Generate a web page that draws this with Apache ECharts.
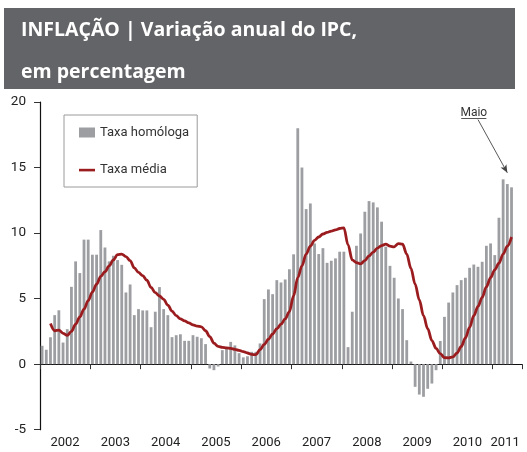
<!DOCTYPE html>
<html>
<head>
<meta charset="utf-8">
<script src="https://cdn.jsdelivr.net/npm/echarts@6/dist/echarts.min.js"></script>
<style>
  html, body { margin: 0; padding: 0; background: #fff; }
  #chart { width: 527px; height: 452px; }
</style>
</head>
<body>
<div id="chart"></div>
<script>
const years = [2002, 2003, 2004, 2005, 2006, 2007, 2008, 2009, 2010, 2011];
const seriesNames = ['Taxa homóloga', 'Taxa média'];
const yTicks = { min: -5, max: 20, step: 5 };

// Taxa homóloga, monthly (Jan 2002 - May 2011)
const taxaHomologa = [
  1.40, 1.10, 2.05, 3.74, 4.11, 1.65, 2.67, 5.90, 7.84, 6.95, 9.50, 9.50,
  8.35, 8.35, 10.23, 8.90, 7.84, 8.27, 7.94, 7.58, 5.47, 6.08, 3.74, 4.20,
  4.10, 4.10, 2.82, 4.00, 5.88, 4.20, 3.74, 2.06, 2.21, 2.28, 1.78, 1.78,
  2.21, 2.09, 1.98, 1.53, -0.33, -0.46, -0.18, 1.07, 1.16, 1.70, 1.43, 0.84,
  0.52, 0.60, 0.94, 0.94, 1.58, 4.96, 5.70, 5.34, 6.41, 6.23, 6.46, 7.24,
  8.38, 18.00, 15.00, 11.83, 12.26, 9.21, 8.40, 8.85, 7.73, 7.89, 8.07, 8.58,
  8.58, 1.30, 4.00, 9.03, 9.97, 11.63, 12.44, 12.34, 11.96, 10.87, 8.96, 7.50,
  6.59, 5.01, 4.20, 1.83, 0.20, -1.73, -2.32, -2.49, -1.88, -1.48, -0.46, 1.77,
  3.61, 4.70, 5.47, 6.03, 6.41, 6.59, 7.35, 7.60, 7.43, 7.81, 9.03, 9.21,
  8.32, 11.17, 14.10, 13.74, 13.49, null, null
];

// Taxa média (12-month average)
const taxaMedia = [
  null, null, 3.10, 2.55, 2.60, 2.35, 2.20, 2.50, 3.05, 3.60, 4.20, 4.85,
  5.50, 6.10, 6.70, 7.05, 7.50, 7.95, 8.35, 8.40, 8.20, 7.90, 7.35, 7.00,
  6.75, 6.40, 5.85, 5.45, 5.20, 4.95, 4.50, 4.05, 3.70, 3.45, 3.30, 3.15,
  3.00, 2.90, 2.85, 2.55, 2.10, 1.60, 1.35, 1.28, 1.24, 1.20, 1.13, 1.05,
  0.95, 0.85, 0.75, 0.72, 1.10, 1.50, 1.90, 2.30, 2.70, 3.05, 3.45, 4.00,
  5.20, 6.60, 7.50, 8.40, 9.00, 9.45, 9.70, 9.93, 10.05, 10.15, 10.25, 10.35,
  10.40, 9.10, 7.95, 7.75, 7.65, 7.90, 8.25, 8.55, 8.85, 9.05, 9.15, 9.00,
  8.95, 9.20, 9.15, 8.40, 7.30, 6.10, 4.90, 3.70, 2.70, 1.80, 1.20, 0.80,
  0.50, 0.48, 0.55, 0.85, 1.35, 2.00, 2.80, 3.70, 4.40, 5.10, 5.90, 6.60,
  7.20, 7.70, 8.40, 9.00, 9.70, null, null
];

// "Maio" annotation, in data coordinates
const maioUnderline = { from: '2010-05', to: '2010-11', value: 18.73 };
const maioArrow = { from: '2010-09', fromValue: 18.66, to: '2011-04', toValue: 14.6 };

// month categories, last year runs to July
const categories = [];
years.forEach(function (y) {
  const n = y === 2011 ? 7 : 12;
  for (let m = 1; m <= n; m++) categories.push(y + '-' + String(m).padStart(2, '0'));
});
const labelAt = years.map(function (y) { return y === 2011 ? '2011-03' : y + '-06'; });

const font = 'Roboto, "Liberation Sans", sans-serif';
const titleFont = '"Open Sans", sans-serif';

const chart = echarts.init(document.getElementById('chart'));
const option = {
  animation: false,
  backgroundColor: '#fff',
  graphic: [
    { type: 'rect', left: 4, top: 8, shape: { width: 511, height: 81 }, style: { fill: '#636467' } },
    { type: 'text', x: 21, y: 30.5, style: { text: 'INFLAÇÃO | Variação anual do IPC,', fill: '#fff',
      fontSize: 19.5, fontWeight: 'bold', fontFamily: titleFont, verticalAlign: 'middle' } },
    { type: 'text', x: 21, y: 72, style: { text: 'em percentagem', fill: '#fff',
      fontSize: 19.5, fontWeight: 'bold', fontFamily: titleFont, verticalAlign: 'middle' } }
  ],
  legend: {
    orient: 'vertical',
    left: 64,
    top: 115,
    padding: [11, 8, 10.5, 15],
    itemGap: 24.5,
    itemWidth: 16,
    itemHeight: 10,
    borderColor: '#9a9a9a',
    borderWidth: 1,
    textStyle: { fontFamily: font, fontSize: 13, color: '#333' },
    data: [
      { name: seriesNames[0], icon: 'rect' },
      // thin bar inside a 16x10 box: the lone move points keep the box size
      { name: seriesNames[1], icon: 'path://M0,0L0,0M0,3.8L16,3.8L16,6.4L0,6.4ZM16,10L16,10' }
    ]
  },
  grid: { left: 40, right: 5, top: 102, bottom: 22.3, containLabel: false, outerBoundsMode: 'none' },
  xAxis: [
    {
      type: 'category',
      data: categories,
      position: 'bottom',
      axisLine: { onZero: true, lineStyle: { color: '#111', width: 1.2 } },
      axisTick: {
        show: true, length: 5, lineStyle: { color: '#333' },
        interval: function (i, v) { return v.slice(5) === '01'; }
      },
      axisLabel: { show: false },
      splitLine: { show: false }
    },
    {
      type: 'category',
      data: categories,
      position: 'bottom',
      axisLine: { show: false, onZero: false },
      axisTick: { show: false },
      splitLine: { show: false },
      axisLabel: {
        show: true, margin: 7, fontFamily: font, fontSize: 13, color: '#222',
        padding: [0, 0, 0, 4],
        interval: function (i, v) { return labelAt.indexOf(v) >= 0; },
        formatter: function (v) { return v.slice(0, 4); }
      }
    }
  ],
  yAxis: {
    type: 'value',
    min: yTicks.min,
    max: yTicks.max,
    interval: yTicks.step,
    axisLine: { show: true, lineStyle: { color: '#111', width: 1.2 } },
    axisTick: { show: true, length: 6, lineStyle: { color: '#333' } },
    splitLine: { show: false },
    axisLabel: { margin: 14, fontFamily: font, fontSize: 13.5, color: '#222' }
  },
  series: [
    {
      name: seriesNames[0],
      type: 'bar',
      xAxisIndex: 0,
      data: taxaHomologa,
      barWidth: 2.8,
      itemStyle: { color: '#9d9ea2' },
      markLine: {
        silent: true,
        animation: false,
        symbol: 'none',
        lineStyle: { color: '#444', width: 0.9, type: 'solid' },
        label: { show: false },
        data: [
          [
            { coord: [maioUnderline.from, maioUnderline.value],
              label: { show: true, formatter: 'Maio', position: 'insideMiddleTop', distance: 0,
                fontFamily: font, fontSize: 12, color: '#333' } },
            { coord: [maioUnderline.to, maioUnderline.value] }
          ],
          [
            { coord: [maioArrow.from, maioArrow.fromValue], symbol: 'none' },
            { coord: [maioArrow.to, maioArrow.toValue], symbol: 'arrow', symbolSize: [5, 8] }
          ]
        ]
      }
    },
    {
      name: seriesNames[1],
      type: 'line',
      xAxisIndex: 0,
      data: taxaMedia,
      symbol: 'none',
      smooth: 0.35,
      smoothMonotone: 'x',
      lineStyle: { color: '#9b1c1f', width: 2.8 },
      itemStyle: { color: '#9b1c1f' }
    }
  ]
};
chart.setOption(option);
</script>
</body>
</html>
